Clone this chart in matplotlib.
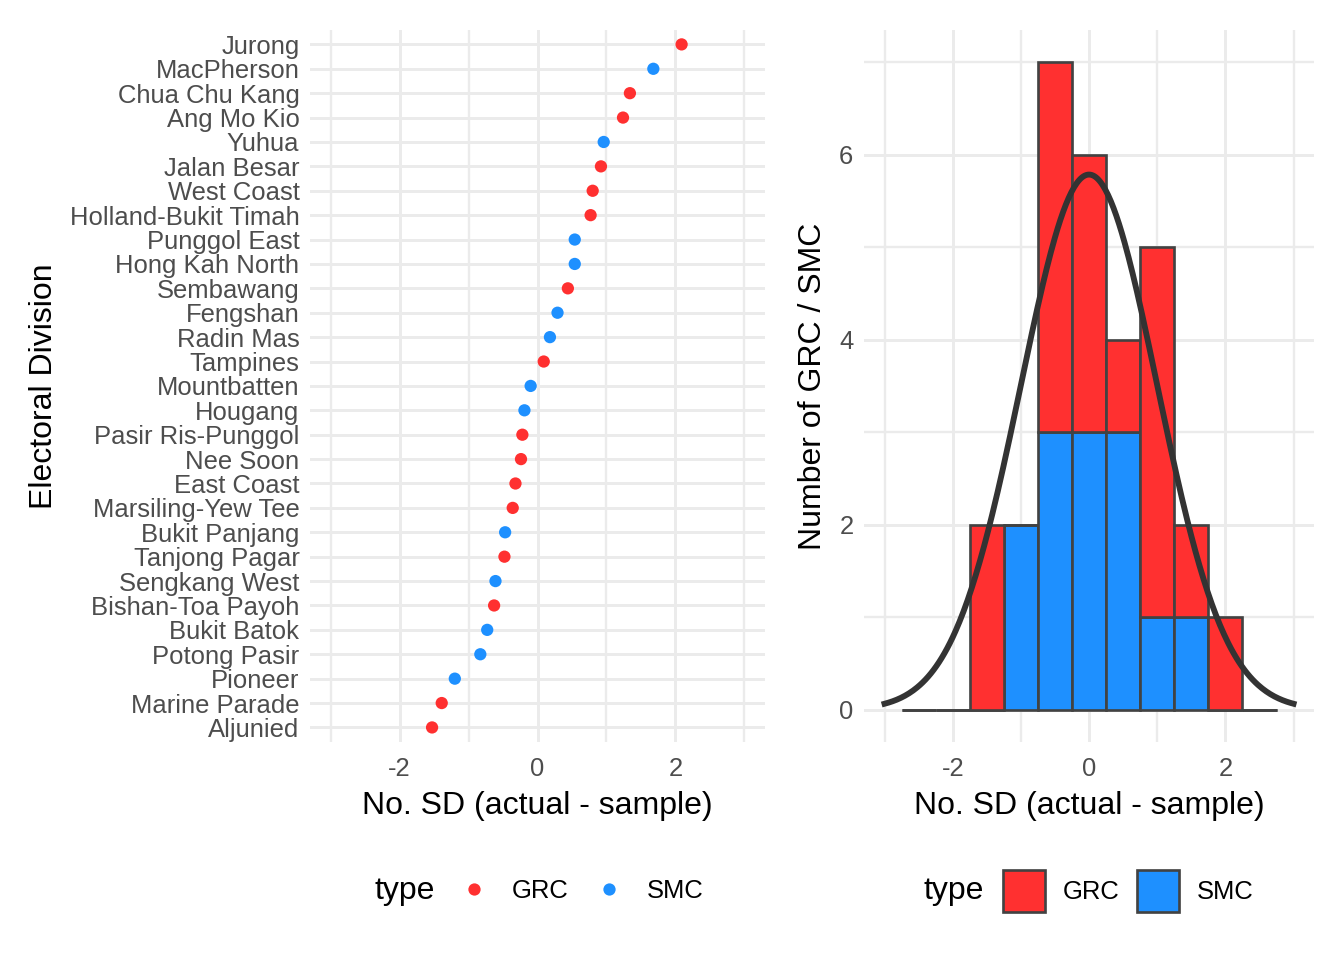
import numpy as np
import matplotlib
matplotlib.use("Agg")
import matplotlib.pyplot as plt
from matplotlib.lines import Line2D
from matplotlib.patches import Patch

plt.rcParams['font.family'] = ['Liberation Sans', 'DejaVu Sans']
plt.rcParams['axes.unicode_minus'] = False

# electoral divisions, top to bottom as in the chart
divisions = ["Jurong", "MacPherson", "Chua Chu Kang", "Ang Mo Kio", "Yuhua",
             "Jalan Besar", "West Coast", "Holland-Bukit Timah", "Punggol East",
             "Hong Kah North", "Sembawang", "Fengshan", "Radin Mas", "Tampines",
             "Mountbatten", "Hougang", "Pasir Ris-Punggol", "Nee Soon",
             "East Coast", "Marsiling-Yew Tee", "Bukit Panjang", "Tanjong Pagar",
             "Sengkang West", "Bishan-Toa Payoh", "Bukit Batok", "Potong Pasir",
             "Pioneer", "Marine Parade", "Aljunied"]
sd_diff = [2.09, 1.68, 1.34, 1.24, 0.96, 0.92, 0.80, 0.77, 0.54, 0.54, 0.44,
           0.29, 0.18, 0.09, -0.10, -0.19, -0.22, -0.24, -0.32, -0.36, -0.47,
           -0.48, -0.61, -0.63, -0.73, -0.83, -1.20, -1.39, -1.53]
div_type = ["GRC", "SMC", "GRC", "GRC", "SMC", "GRC", "GRC", "GRC", "SMC",
            "SMC", "GRC", "SMC", "SMC", "GRC", "SMC", "SMC", "GRC", "GRC",
            "GRC", "GRC", "SMC", "GRC", "SMC", "GRC", "SMC", "SMC", "SMC",
            "GRC", "GRC"]

colors = {"GRC": "#FF3030", "SMC": "#1E90FF"}
edge = "#424242"
grid_col = "#EBEBEB"
tick_col = "#4D4D4D"
tick_fs = 9.6
title_fs = 12

binwidth = 0.5
bin_edges = np.arange(-2.75, 2.76, binwidth)

fig = plt.figure(figsize=(7, 5), dpi=192)
ax1 = fig.add_axes([0.2307, 0.227, 0.3385, 0.742])
ax2 = fig.add_axes([0.6429, 0.227, 0.3348, 0.742])

# ---- left: dot plot
names = divisions[::-1]
vals = np.array(sd_diff[::-1])
types = np.array(div_type[::-1])
ax1.scatter(vals, names, c=[colors[t] for t in types], s=4.6**2,
            linewidths=0, zorder=3)
ax1.set_xlim(-3.3, 3.3)
ax1.set_ylim(-0.6, len(names) - 0.4)
ax1.set_xticks([-2, 0, 2])
ax1.set_xticks([-3, -1, 1, 3], minor=True)
ax1.set_xlabel("No. SD (actual - sample)", fontsize=title_fs, labelpad=4)
ax1.set_ylabel("Electoral Division", fontsize=title_fs, labelpad=4)

# ---- right: stacked histogram + normal curve
v = np.array(sd_diff)
t = np.array(div_type)
smc_counts, _ = np.histogram(v[t == "SMC"], bins=bin_edges)
grc_counts, _ = np.histogram(v[t == "GRC"], bins=bin_edges)
centers = (bin_edges[:-1] + bin_edges[1:]) / 2
ax2.bar(centers, smc_counts, width=binwidth, color=colors["SMC"],
        edgecolor=edge, linewidth=1.0, zorder=2)
ax2.bar(centers, grc_counts, bottom=smc_counts, width=binwidth,
        color=colors["GRC"], edgecolor=edge, linewidth=1.0, zorder=2)

xs = np.linspace(-3, 3, 301)
dens = np.exp(-xs ** 2 / 2) / np.sqrt(2 * np.pi)
ax2.plot(xs, dens * len(v) * binwidth, color="#333333", lw=2.2, zorder=4)
ax2.set_xlim(-3.3, 3.3)
ax2.set_ylim(-0.35, 7.35)
ax2.set_xticks([-2, 0, 2])
ax2.set_xticks([-3, -1, 1, 3], minor=True)
ax2.set_yticks([0, 2, 4, 6])
ax2.set_yticks([1, 3, 5, 7], minor=True)
ax2.set_xlabel("No. SD (actual - sample)", fontsize=title_fs, labelpad=4)
ax2.set_ylabel("Number of GRC / SMC", fontsize=title_fs, labelpad=4)

for ax in (ax1, ax2):
    ax.set_axisbelow(True)
    for s in ax.spines.values():
        s.set_visible(False)
    ax.grid(which="major", color=grid_col, lw=1.1)
    ax.grid(which="minor", color=grid_col, lw=0.9)
    ax.tick_params(which="both", length=0, labelsize=tick_fs, labelcolor=tick_col)
    ax.tick_params(axis="x", pad=5.5)
    ax.tick_params(axis="y", pad=4)

# ---- legends
leg_y = 1 - 891 / 960
fig.text(405 / 1344, leg_y, "type", fontsize=title_fs, ha="center", va="center")
h1 = [Line2D([], [], ls="", marker="o", ms=4.6, mec="none", color=colors[k])
      for k in ("GRC", "SMC")]
fig.legend(h1, ["GRC", "SMC"], loc="center left",
           bbox_to_anchor=(438 / 1344, leg_y), ncol=2, frameon=False,
           fontsize=tick_fs, handlelength=1.0, handletextpad=1.0,
           columnspacing=1.05, borderpad=0.4)

fig.text(954 / 1344, leg_y, "type", fontsize=title_fs, ha="center", va="center")
h2 = [Patch(facecolor=colors[k], edgecolor=edge, linewidth=1.0)
      for k in ("GRC", "SMC")]
fig.legend(h2, ["GRC", "SMC"], loc="center left",
           bbox_to_anchor=(980 / 1344, leg_y), ncol=2, frameon=False,
           fontsize=tick_fs, handlelength=1.64, handleheight=2.1,
           handletextpad=0.7, columnspacing=0.68, borderpad=0.4)

fig.savefig("out.png", dpi=192)
